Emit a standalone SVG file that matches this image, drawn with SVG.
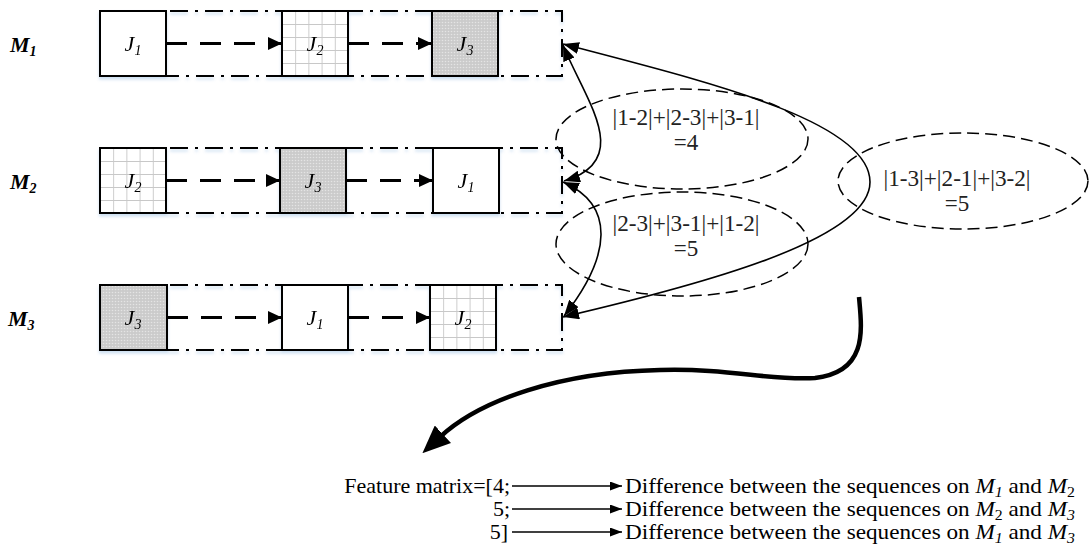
<svg xmlns="http://www.w3.org/2000/svg" width="1092" height="548" viewBox="0 0 1092 548">
<style>
.ml{font-family:"Liberation Serif","Times New Roman",serif;font-style:italic;font-weight:bold;font-size:22px}
.j{font-family:"Liberation Serif","Times New Roman",serif;font-style:italic;font-size:22px;text-anchor:middle}
.sub{font-size:14px}
.row{fill:none;stroke:#000;stroke-width:2;stroke-dasharray:18 7 3 7}
.box{stroke:#000;stroke-width:2}
.flow{fill:none;stroke:#000;stroke-width:3;stroke-dasharray:21 13}
.ell{fill:none;stroke:#000;stroke-width:1.5;stroke-dasharray:12 6}
.thin{fill:none;stroke:#000;stroke-width:1.6}
.et{font-family:"Liberation Serif","Times New Roman",serif;font-size:23px;text-anchor:middle;fill:#222}
.ft{font-family:"Liberation Serif","Times New Roman",serif;font-size:22px}
</style>
<defs>
<pattern id="grid" patternUnits="objectBoundingBox" width="0.2" height="0.2">
<path d="M0 0H14M0 0V14" stroke="#c8c8c8" stroke-width="1.8" fill="none"/>
</pattern>
<pattern id="dots" patternUnits="userSpaceOnUse" width="3" height="3">
<rect width="3" height="3" fill="#cbcbcb"/>
<circle cx="1.5" cy="1.5" r="0.8" fill="#e4e4e4"/>
</pattern>
<filter id="sh" x="-5%" y="-10%" width="110%" height="130%">
<feDropShadow dx="0" dy="2.5" stdDeviation="1.5" flood-color="#8fb8e0" flood-opacity="0.45"/>
</filter>
<marker id="ah" markerUnits="userSpaceOnUse" markerWidth="15" markerHeight="13" refX="14" refY="6.5" orient="auto">
<path d="M0 0L14 6.5L0 13z" fill="#000"/>
</marker>
<marker id="ah2" markerUnits="userSpaceOnUse" markerWidth="17" markerHeight="12" refX="16" refY="6" orient="auto-start-reverse">
<path d="M0 0L16 6L0 12z" fill="#000"/>
</marker>
<marker id="ah3" markerUnits="userSpaceOnUse" markerWidth="13" markerHeight="9" refX="12" refY="4.5" orient="auto">
<path d="M0 0L12 4.5L0 9z" fill="#000"/>
</marker>
<marker id="big" markerUnits="userSpaceOnUse" markerWidth="28" markerHeight="24" refX="4" refY="12" orient="auto">
<path d="M0 0L28 12L0 24z" fill="#000"/>
</marker>
</defs>

<g id="labels">
<text class="ml" x="10" y="52">M<tspan class="sub" dy="4">1</tspan></text>
<text class="ml" x="10" y="189">M<tspan class="sub" dy="4">2</tspan></text>
<text class="ml" x="8" y="326">M<tspan class="sub" dy="4">3</tspan></text>
</g>

<g id="row1" filter="url(#sh)">
<rect class="row" x="100" y="11" width="462" height="65"/>
<g id="r1-j1"><rect class="box" x="100" y="11" width="66" height="65" fill="#fff"/><text class="j" x="133" y="51">J<tspan class="sub" dy="4">1</tspan></text></g>
<g id="r1-j2"><rect x="282" y="11" width="66" height="65" fill="#fff"/><rect class="box" x="282" y="11" width="66" height="65" fill="url(#grid)"/><text class="j" x="315" y="51">J<tspan class="sub" dy="4">2</tspan></text></g>
<g id="r1-j3"><rect class="box" x="432" y="11" width="66" height="65" fill="url(#dots)"/><text class="j" x="465" y="51">J<tspan class="sub" dy="4">3</tspan></text></g>
</g>

<g id="row2" filter="url(#sh)">
<rect class="row" x="100" y="148" width="462" height="65"/>
<g id="r2-j2"><rect x="100" y="148" width="66" height="65" fill="#fff"/><rect class="box" x="100" y="148" width="66" height="65" fill="url(#grid)"/><text class="j" x="133" y="188">J<tspan class="sub" dy="4">2</tspan></text></g>
<g id="r2-j3"><rect class="box" x="280" y="148" width="66" height="65" fill="url(#dots)"/><text class="j" x="313" y="188">J<tspan class="sub" dy="4">3</tspan></text></g>
<g id="r2-j1"><rect class="box" x="433" y="148" width="66" height="65" fill="#fff"/><text class="j" x="466" y="188">J<tspan class="sub" dy="4">1</tspan></text></g>
</g>

<g id="row3" filter="url(#sh)">
<rect class="row" x="100" y="285" width="462" height="65"/>
<g id="r3-j3"><rect class="box" x="100" y="285" width="67" height="65" fill="url(#dots)"/><text class="j" x="133" y="325">J<tspan class="sub" dy="4">3</tspan></text></g>
<g id="r3-j1"><rect class="box" x="282" y="285" width="66" height="65" fill="#fff"/><text class="j" x="315" y="325">J<tspan class="sub" dy="4">1</tspan></text></g>
<g id="r3-j2"><rect x="430" y="285" width="66" height="65" fill="#fff"/><rect class="box" x="430" y="285" width="66" height="65" fill="url(#grid)"/><text class="j" x="463" y="325">J<tspan class="sub" dy="4">2</tspan></text></g>
</g>

<g id="ellipse1"><ellipse class="ell" cx="682" cy="139" rx="126" ry="50"/>
<text class="et" x="686" y="125" textLength="147" lengthAdjust="spacingAndGlyphs">|1-2|+|2-3|+|3-1|</text><text class="et" x="686" y="150">=4</text></g>
<g id="ellipse2"><ellipse class="ell" cx="682" cy="244" rx="126" ry="52"/>
<text class="et" x="686" y="231" textLength="147" lengthAdjust="spacingAndGlyphs">|2-3|+|3-1|+|1-2|</text><text class="et" x="686" y="256">=5</text></g>
<g id="ellipse3"><ellipse class="ell" cx="963" cy="181" rx="125" ry="48"/>
<text class="et" x="957" y="186" textLength="147" lengthAdjust="spacingAndGlyphs">|1-3|+|2-1|+|3-2|</text><text class="et" x="957" y="211">=5</text></g>

<g id="connectors">
<line class="flow" x1="166" y1="43.5" x2="282" y2="43.5" marker-end="url(#ah)"/>
<line class="flow" x1="348" y1="43.5" x2="432" y2="43.5" marker-end="url(#ah)"/>
<line class="flow" x1="166" y1="180.5" x2="280" y2="180.5" marker-end="url(#ah)"/>
<line class="flow" x1="346" y1="180.5" x2="433" y2="180.5" marker-end="url(#ah)"/>
<line class="flow" x1="167" y1="317.5" x2="282" y2="317.5" marker-end="url(#ah)"/>
<line class="flow" x1="348" y1="317.5" x2="430" y2="317.5" marker-end="url(#ah)"/>
<path class="thin" d="M563 45C585 100 635 160 564 181" marker-start="url(#ah2)" marker-end="url(#ah2)"/>
<path class="thin" d="M563 182C615 205 612 255 564 316" marker-start="url(#ah2)" marker-end="url(#ah2)"/>
<path class="thin" d="M563 44C700 80 870 120 870 182C870 240 700 285 563 317" marker-start="url(#ah2)" marker-end="url(#ah2)"/>
<path d="M859 297C862 330 868 372 815 378C770 381 730 368 660 370C560 372 480 400 440 437" fill="none" stroke="#000" stroke-width="4.5" marker-end="url(#big)"/>
<line class="thin" x1="512" y1="486" x2="622" y2="486" stroke-width="1.3" marker-end="url(#ah3)"/>
<line class="thin" x1="512" y1="509" x2="622" y2="509" stroke-width="1.3" marker-end="url(#ah3)"/>
<line class="thin" x1="512" y1="532" x2="622" y2="532" stroke-width="1.3" marker-end="url(#ah3)"/>
</g>

<g id="feature">
<text class="ft" x="510" y="493" text-anchor="end">Feature matrix=[4;</text>
<text class="ft" x="510" y="516" text-anchor="end">5;</text>
<text class="ft" x="508" y="539" text-anchor="end">5]</text>
<text class="ft" x="625" y="493" textLength="450" lengthAdjust="spacingAndGlyphs">Difference between the sequences on <tspan font-style="italic">M</tspan><tspan font-style="italic" font-size="15" dy="4">1</tspan><tspan dy="-4"> and </tspan><tspan font-style="italic">M</tspan><tspan font-size="15" dy="4">2</tspan></text>
<text class="ft" x="625" y="516" textLength="450" lengthAdjust="spacingAndGlyphs">Difference between the sequences on <tspan font-style="italic">M</tspan><tspan font-size="15" dy="4">2</tspan><tspan dy="-4"> and </tspan><tspan font-style="italic">M</tspan><tspan font-style="italic" font-size="15" dy="4">3</tspan></text>
<text class="ft" x="625" y="539" textLength="450" lengthAdjust="spacingAndGlyphs">Difference between the sequences on <tspan font-style="italic">M</tspan><tspan font-style="italic" font-size="15" dy="4">1</tspan><tspan dy="-4"> and </tspan><tspan font-style="italic">M</tspan><tspan font-style="italic" font-size="15" dy="4">3</tspan></text>
</g>
</svg>
